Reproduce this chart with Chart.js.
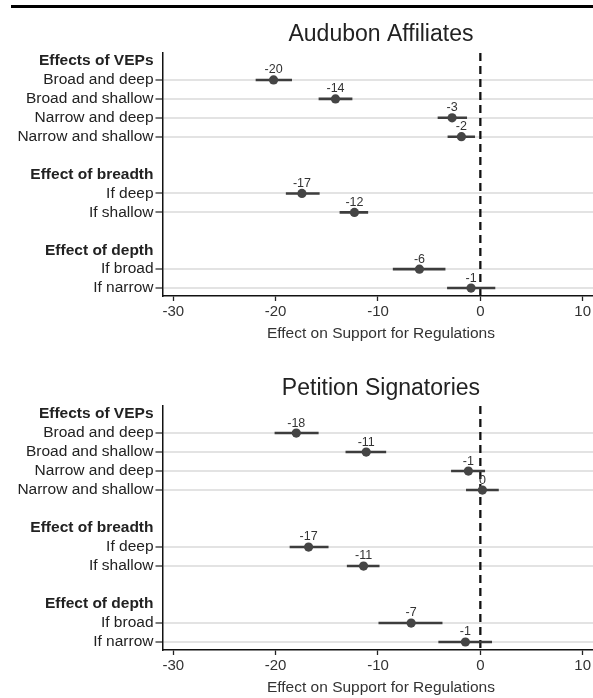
<!DOCTYPE html>
<html>
<head>
<meta charset="utf-8">
<script src="https://cdn.jsdelivr.net/npm/chart.js@4.4.1/dist/chart.umd.min.js"></script>
<style>
  html, body { margin: 0; padding: 0; background: #fff; overflow: hidden; width: 593px; height: 698px; }
  #topRule { position: absolute; left: 11px; right: 0; top: 5px; height: 2.5px; background: #000; }
  #c1 { position: absolute; left: 0; top: 0; }
  #c2 { position: absolute; left: 0; top: 344px; }
</style>
</head>
<body>
<div id="topRule"></div>
<canvas id="c1" width="604" height="344"></canvas>
<canvas id="c2" width="604" height="354"></canvas>
<script>
// ---- data ----
const groupTitles = ['Effects of VEPs', 'Effect of breadth', 'Effect of depth'];
const groupItems = [
  ['Broad and deep', 'Broad and shallow', 'Narrow and deep', 'Narrow and shallow'],
  ['If deep', 'If shallow'],
  ['If broad', 'If narrow']
];
const panelTitles = ['Audubon Affiliates', 'Petition Signatories'];
const xTickValues = [-30, -20, -10, 0, 10];
const xAxisTitle = 'Effect on Support for Regulations';

const audubonEst = [-20.2, -14.15, -2.76, -1.85, -17.43, -12.3, -5.95, -0.91];
const audubonLo  = [-21.95, -15.8, -4.17, -3.2, -19.0, -13.75, -8.55, -3.25];
const audubonHi  = [-18.4, -12.5, -1.3, -0.52, -15.7, -10.96, -3.41, 1.46];

const petitionEst = [-17.98, -11.15, -1.17, 0.2, -16.78, -11.41, -6.76, -1.46];
const petitionLo  = [-20.1, -13.17, -2.86, -1.4, -18.63, -13.04, -9.95, -4.1];
const petitionHi  = [-15.8, -9.2, 0.46, 1.8, -14.83, -9.85, -3.7, 1.14];

// ---- build row structure ----
const rowLabels = [];
const rowIsHeader = [];
const itemRow = [];
groupTitles.forEach((t, g) => {
  rowLabels.push(t); rowIsHeader.push(true);
  groupItems[g].forEach(it => { itemRow.push(rowLabels.length); rowLabels.push(it); rowIsHeader.push(false); });
  if (g < groupTitles.length - 1) { rowLabels.push(''); rowIsHeader.push(null); }
});
const yMin = -0.42, yMax = rowLabels.length - 1 + 0.42;

const FONT = "'Liberation Sans', Arial, Helvetica, sans-serif";

const valueLabelPlugin = {
  id: 'valueLabels',
  afterDatasetsDraw(chart) {
    const meta = chart.getDatasetMeta(0);
    const ctx = chart.ctx;
    ctx.save();
    ctx.font = '12.5px ' + FONT;
    ctx.fillStyle = '#333';
    ctx.textAlign = 'center';
    ctx.textBaseline = 'middle';
    const ds = chart.data.datasets[0].data;
    meta.data.forEach((el, i) => {
      ctx.fillText(String(Math.round(ds[i].x)), el.x, el.y - 10);
    });
    ctx.restore();
  }
};

function makeChart(id, title, est, lo, hi, titlePad) {
  const datasets = [];
  datasets.push({
    type: 'scatter',
    data: est.map((v, i) => ({ x: v, y: itemRow[i] })),
    pointRadius: 4.6,
    pointBackgroundColor: '#454545',
    pointBorderWidth: 0,
    showLine: false
  });
  est.forEach((v, i) => {
    datasets.push({
      type: 'line',
      data: [{ x: lo[i], y: itemRow[i] }, { x: hi[i], y: itemRow[i] }],
      borderColor: '#3d3d3d',
      borderWidth: 2.6,
      pointRadius: 0,
      fill: false
    });
  });
  datasets.push({
    type: 'line',
    data: [{ x: 0, y: yMin }, { x: 0, y: yMax }],
    borderColor: '#111',
    borderWidth: 2.3,
    borderDash: [8, 5],
    pointRadius: 0,
    fill: false
  });

  return new Chart(document.getElementById(id), {
    type: 'scatter',
    data: { datasets },
    plugins: [valueLabelPlugin],
    options: {
      responsive: false,
      animation: false,
      devicePixelRatio: 1,
      layout: { padding: { left: 0, right: 0, top: 0, bottom: 0 } },
      plugins: {
        legend: { display: false },
        tooltip: { enabled: false },
        title: {
          display: true,
          text: title,
          fullSize: false,
          color: '#222',
          font: { family: FONT, size: 23, weight: 'normal', lineHeight: 1.2 },
          padding: titlePad
        }
      },
      scales: {
        x: {
          type: 'linear',
          min: -31.05,
          max: 11.63,
          afterBuildTicks(scale) { scale.ticks = xTickValues.map(v => ({ value: v })); },
          afterFit(scale) { scale.height = 48; scale.paddingLeft = 0; scale.paddingRight = 0; },
          ticks: {
            color: '#333',
            font: { family: FONT, size: 15 },
            padding: 2,
            maxRotation: 0,
            autoSkip: false,
            callback: v => String(v)
          },
          grid: { drawOnChartArea: false, drawTicks: true, tickLength: 5, tickColor: '#222', tickWidth: 1.3 },
          border: { color: '#111', width: 1.5 },
          title: {
            display: true,
            text: xAxisTitle,
            color: '#333',
            font: { family: FONT, size: 15.5 },
            padding: { top: 0, bottom: 1 }
          }
        },
        y: {
          type: 'linear',
          reverse: true,
          min: yMin,
          max: yMax,
          afterBuildTicks(scale) { scale.ticks = rowLabels.map((l, i) => ({ value: i })); },
          afterFit(scale) { scale.width = 162.5; },
          ticks: {
            autoSkip: false,
            padding: 2,
            color: '#222',
            font: ctx => ({ family: FONT, size: 15.5, weight: (ctx.tick && rowIsHeader[ctx.tick.value] === true) ? 'bold' : 'normal' }),
            callback: v => rowLabels[v]
          },
          grid: {
            drawTicks: true,
            tickLength: 7,
            lineWidth: 2,
            tickWidth: 1.3,
            color: ctx => (ctx.tick && rowIsHeader[ctx.tick.value] === false) ? '#e3e3e3' : 'rgba(0,0,0,0)',
            tickColor: ctx => (ctx.tick && rowIsHeader[ctx.tick.value] === false) ? '#333' : 'rgba(0,0,0,0)'
          },
          border: { color: '#111', width: 1.5 }
        }
      }
    }
  });
}

makeChart('c1', panelTitles[0], audubonEst, audubonLo, audubonHi, { top: 20.5, bottom: 5 });
makeChart('c2', panelTitles[1], petitionEst, petitionLo, petitionHi, { top: 30.5, bottom: 4 });
</script>
</body>
</html>
